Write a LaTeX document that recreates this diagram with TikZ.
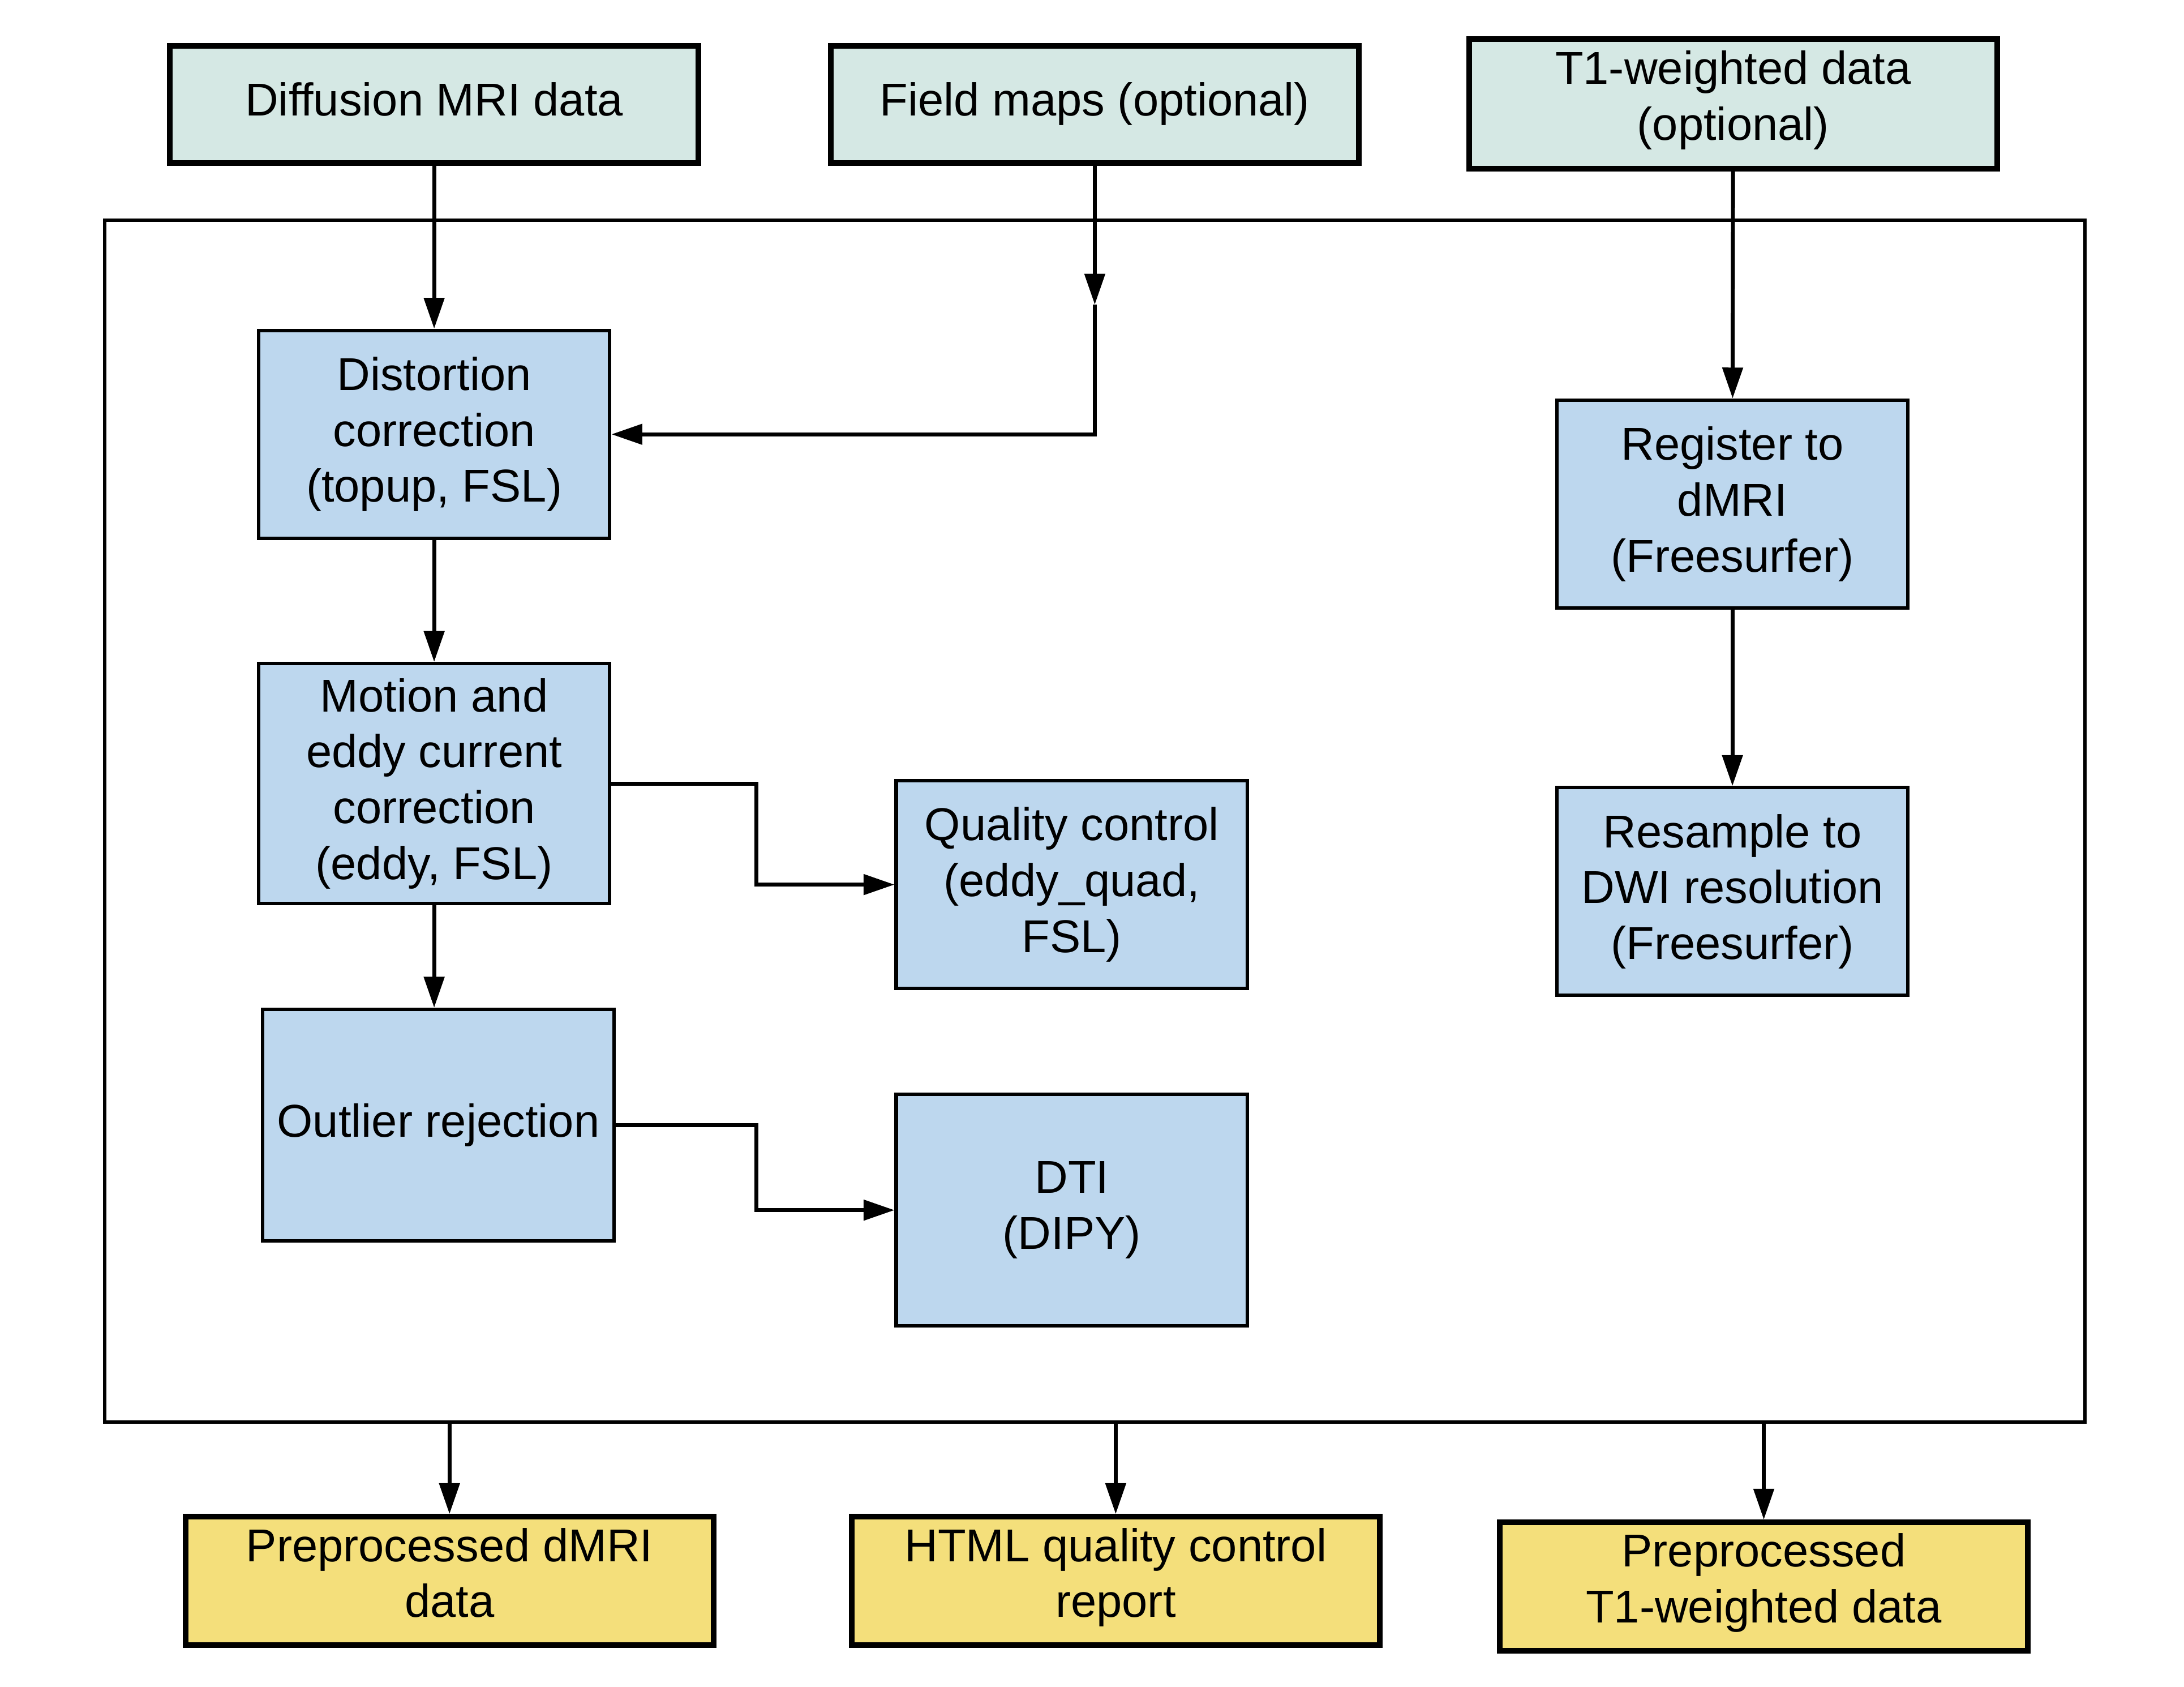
\documentclass[tikz,border=0pt]{standalone}
\usepackage{fontspec}
\setmainfont{Liberation Sans}
\usetikzlibrary{arrows.meta,positioning}
\definecolor{inputfill}{HTML}{D5E8E4}
\definecolor{stepfill}{HTML}{BDD7EE}
\definecolor{outputfill}{HTML}{F4DF7B}
\begin{document}
\begin{tikzpicture}[
    font=\fontsize{9.4}{11.4}\selectfont,
    every node/.style={align=center,inner sep=0mm},
    inbox/.style={draw,line width=1.15pt,fill=inputfill,minimum width=3.79cm,minimum height=0.84cm,execute at end node=\strut},
    outbox/.style={draw,line width=1.15pt,fill=outputfill,minimum width=3.79cm,minimum height=0.92cm,execute at end node=\strut},
    stepbox/.style={draw,line width=0.7pt,fill=stepfill,minimum width=2.52cm,minimum height=1.49cm},
    arr/.style={line width=0.8pt,-{Triangle[length=6.3pt,width=4.1pt]}}]

    \useasboundingbox (0,0) rectangle (15.67,-12.097);

    \node[draw,line width=0.7pt,minimum width=14.21cm,minimum height=8.62cm] (pipe) at (7.855,-5.89) {};

    \node[inbox] (node-diff) at (3.115,-0.75) {Diffusion MRI data};
    \node[inbox] (node-field) at (7.855,-0.75) {Field maps (optional)};
    \node[inbox,minimum height=0.93cm] (node-t1) at (12.435,-0.745) {T1-weighted data\\(optional)};

    \node[stepbox] (node-dist) at (3.115,-3.115) {Distortion\\correction\\(topup, FSL)};
    \node[stepbox,minimum height=1.72cm] (node-motion) at (3.115,-5.62) {Motion and\\eddy current\\correction\\(eddy, FSL)};
    \node[stepbox,minimum height=1.66cm] (node-outlier) at (3.145,-8.07) {Outlier rejection};
    \node[stepbox] (node-qc) at (7.69,-6.345) {Quality control\\(eddy\_quad,\\FSL)};
    \node[stepbox,minimum height=1.66cm] (node-dti) at (7.69,-8.68) {DTI\\(DIPY)};
    \node[stepbox] (node-reg) at (12.43,-3.615) {Register to\\dMRI\\(Freesurfer)};
    \node[stepbox] (node-resamp) at (12.43,-6.395) {Resample to\\DWI resolution\\(Freesurfer)};

    \node[outbox] (node-out1) at (3.225,-11.34) {Preprocessed dMRI\\data};
    \node[outbox] (node-out2) at (8.005,-11.34) {HTML quality control\\report};
    \node[outbox] (node-out3) at (12.655,-11.38) {Preprocessed\\T1-weighted data};

    \coordinate (fm-mid) at (7.855,-2.185);

    \draw[arr] (node-diff) -- (node-dist);
    \draw[arr] (node-field) -- (fm-mid);
    \draw[arr] (fm-mid) |- (node-dist);
    \draw[arr] (node-dist) -- (node-motion);
    \draw[arr] (node-motion.east) -- ++(1.04,0) |- (node-qc.west);
    \draw[arr] (node-motion.south) -- (node-motion.south |- node-outlier.north);
    \draw[arr] (node-outlier.east) -- ++(1.01,0) |- (node-dti.west);
    \draw[arr] (node-t1) -- (node-reg);
    \draw[arr] (node-reg) -- (node-resamp);
    \draw[arr] (pipe.south -| node-out1) -- (node-out1);
    \draw[arr] (pipe.south -| node-out2) -- (node-out2);
    \draw[arr] (pipe.south -| node-out3) -- (node-out3);
\end{tikzpicture}
\end{document}
